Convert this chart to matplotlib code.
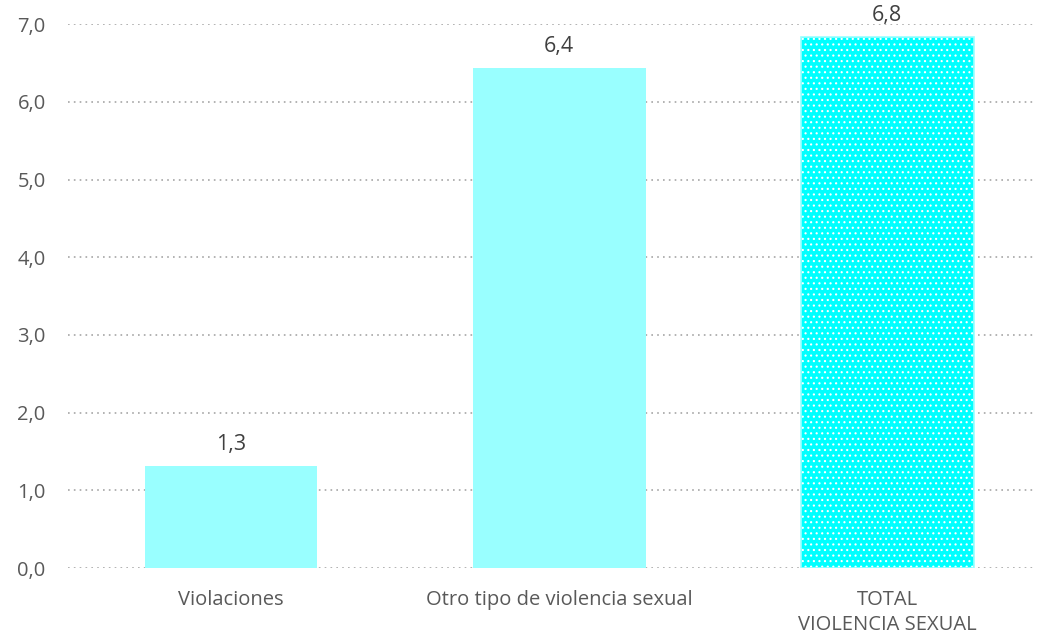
import matplotlib.pyplot as plt

categories = ['Violaciones', 'Otro tipo de violencia sexual', 'TOTAL\nVIOLENCIA SEXUAL']
values = [1.31, 6.44, 6.83]
value_labels = ['1,3', '6,4', '6,8']
yticks = [0, 1, 2, 3, 4, 5, 6, 7]
ytick_labels = ['0,0', '1,0', '2,0', '3,0', '4,0', '5,0', '6,0', '7,0']

plt.rcParams['font.family'] = ['Open Sans', 'DejaVu Sans']
plt.rcParams['hatch.linewidth'] = 0.8

fig = plt.figure(figsize=(10.39, 6.37), dpi=100)
ax = fig.add_axes([0.0654, 0.1083, 0.9306, 0.8537])

x = list(range(len(categories)))
ax.bar(x[:2], values[:2], width=0.527, color='#99FFFF', zorder=3)
ax.bar(x[2], values[2], width=0.527, color='#00FFFF', edgecolor='white',
       hatch='...', linewidth=0, zorder=3)
ax.bar(x[2], values[2], width=0.527, facecolor='none', edgecolor='#99FFFF',
       linewidth=1.2, zorder=4)

for xi, v, lab in zip(x, values, value_labels):
    ax.annotate(lab, (xi, v), xytext=(0, 8), textcoords='offset points',
                ha='center', va='bottom', fontsize=15.5, color='#404040')

ax.set_ylim(0, 7)
ax.set_xlim(-0.497, 2.45)
ax.set_yticks(yticks)
ax.set_yticklabels(ytick_labels, fontsize=14.5, color='#595959')
ax.set_xticks(x)
ax.set_xticklabels(categories, fontsize=14.5, color='#595959', linespacing=1.3)
ax.tick_params(axis='both', length=0)
ax.tick_params(axis='y', pad=16)
ax.tick_params(axis='x', pad=16)
ax.yaxis.grid(True, linestyle=(0, (1, 2.5)), color='#A6A6A6', linewidth=1.2, zorder=0)
for s in ax.spines.values():
    s.set_visible(False)

fig.savefig('out.png', dpi=100)
